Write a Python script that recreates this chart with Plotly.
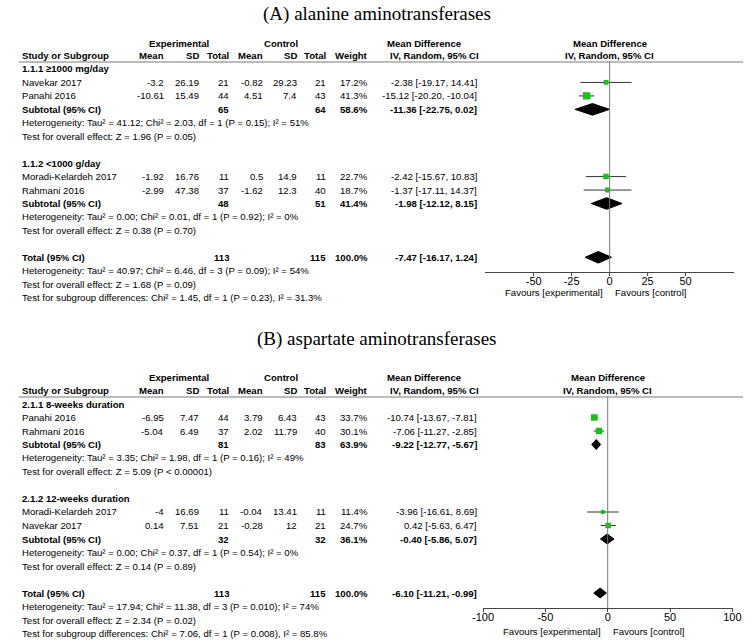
import plotly.graph_objects as go
import math

W, H = 752, 644
SANS = "Arial, Liberation Sans, sans-serif"
SERIF = "Times New Roman, Liberation Serif, serif"
GREEN = "#17c217"
FS = 9.6

# ---------------- Panel A data ----------------
a_title = "(A) alanine aminotransferases"
a_groups = ["1.1.1 \u22651000 mg/day", "1.1.2 &lt;1000 g/day"]
a_group_of = [0, 0, 1, 1]
a_study = ["Navekar 2017", "Panahi 2016", "Moradi-Kelardeh 2017", "Rahmani 2016"]
a_exp_mean = [-3.2, -10.61, -1.92, -2.99]
a_exp_sd = [26.19, 15.49, 16.76, 47.38]
a_exp_n = [21, 44, 11, 37]
a_ctl_mean = [-0.82, 4.51, 0.5, -1.62]
a_ctl_sd = [29.23, 7.4, 14.9, 12.3]
a_ctl_n = [21, 43, 11, 40]
a_weight = [17.2, 41.3, 22.7, 18.7]
a_md = [-2.38, -15.12, -2.42, -1.37]
a_lo = [-19.17, -20.20, -15.67, -17.11]
a_hi = [14.41, -10.04, 10.83, 14.37]
a_sub_n_exp = [65, 48]
a_sub_n_ctl = [64, 51]
a_sub_weight = [58.6, 41.4]
a_sub_md = [-11.36, -1.98]
a_sub_lo = [-22.75, -12.12]
a_sub_hi = [0.02, 8.15]
a_sub_het = ["Heterogeneity: Tau\u00b2 = 41.12; Chi\u00b2 = 2.03, df = 1 (P = 0.15); I\u00b2 = 51%",
             "Heterogeneity: Tau\u00b2 = 0.00; Chi\u00b2 = 0.01, df = 1 (P = 0.92); I\u00b2 = 0%"]
a_sub_test = ["Test for overall effect: Z = 1.96 (P = 0.05)",
              "Test for overall effect: Z = 0.38 (P = 0.70)"]
a_tot_n_exp, a_tot_n_ctl, a_tot_weight = 113, 115, 100.0
a_tot_md, a_tot_lo, a_tot_hi = -7.47, -16.17, 1.24
a_tot_het = "Heterogeneity: Tau\u00b2 = 40.97; Chi\u00b2 = 6.46, df = 3 (P = 0.09); I\u00b2 = 54%"
a_tot_test = "Test for overall effect: Z = 1.68 (P = 0.09)"
a_subgroup_test = "Test for subgroup differences: Chi\u00b2 = 1.45, df = 1 (P = 0.23), I\u00b2 = 31.3%"
a_ticks = [-50, -25, 0, 25, 50]
a_range = [-82, 82]

# ---------------- Panel B data ----------------
b_title = "(B) aspartate aminotransferases"
b_groups = ["2.1.1 8-weeks duration", "2.1.2 12-weeks duration"]
b_group_of = [0, 0, 1, 1]
b_study = ["Panahi 2016", "Rahmani 2016", "Moradi-Kelardeh 2017", "Navekar 2017"]
b_exp_mean = [-6.95, -5.04, -4, 0.14]
b_exp_sd = [7.47, 6.49, 16.69, 7.51]
b_exp_n = [44, 37, 11, 21]
b_ctl_mean = [3.79, 2.02, -0.04, -0.28]
b_ctl_sd = [6.43, 11.79, 13.41, 12]
b_ctl_n = [43, 40, 11, 21]
b_weight = [33.7, 30.1, 11.4, 24.7]
b_md = [-10.74, -7.06, -3.96, 0.42]
b_lo = [-13.67, -11.27, -16.61, -5.63]
b_hi = [-7.81, -2.85, 8.69, 6.47]
b_sub_n_exp = [81, 32]
b_sub_n_ctl = [83, 32]
b_sub_weight = [63.9, 36.1]
b_sub_md = [-9.22, -0.40]
b_sub_lo = [-12.77, -5.86]
b_sub_hi = [-5.67, 5.07]
b_sub_het = ["Heterogeneity: Tau\u00b2 = 3.35; Chi\u00b2 = 1.98, df = 1 (P = 0.16); I\u00b2 = 49%",
             "Heterogeneity: Tau\u00b2 = 0.00; Chi\u00b2 = 0.37, df = 1 (P = 0.54); I\u00b2 = 0%"]
b_sub_test = ["Test for overall effect: Z = 5.09 (P &lt; 0.00001)",
              "Test for overall effect: Z = 0.14 (P = 0.89)"]
b_tot_n_exp, b_tot_n_ctl, b_tot_weight = 113, 115, 100.0
b_tot_md, b_tot_lo, b_tot_hi = -6.10, -11.21, -0.99
b_tot_het = "Heterogeneity: Tau\u00b2 = 17.94; Chi\u00b2 = 11.38, df = 3 (P = 0.010); I\u00b2 = 74%"
b_tot_test = "Test for overall effect: Z = 2.34 (P = 0.02)"
b_subgroup_test = "Test for subgroup differences: Chi\u00b2 = 7.06, df = 1 (P = 0.008), I\u00b2 = 85.8%"
b_ticks = [-100, -50, 0, 50, 100]
b_range = [-100.3, 100.3]

# column x positions (window px, right edges)
X_NAME = 10
X_MEAN_E, X_SD_E, X_N_E = 158, 194, 225
X_MEAN_C, X_SD_C, X_N_C = 260, 295, 325
X_WEIGHT = 368
X_CI = 480
X_EXP_HDR, X_CTL_HDR = 173, 277
X_MD_HDR1, X_MD_HDR2 = 424, 435

ann = []
shapes = []
traces = []


def px(x):
    return x / W


def py(y):
    return 1 - y / H


def txt(x, y, s, anchor="left", bold=False, size=FS, family=SANS):
    ann.append(dict(xref="paper", yref="paper", x=px(x), y=py(y),
                    text=f"<b>{s}</b>" if bold else s, xanchor=anchor, yanchor="middle",
                    showarrow=False, borderpad=0,
                    font=dict(size=size, family=family, color="black")))


def fnum(v):
    return f"{v:g}"


def fci(m, lo, hi):
    return f"{m:.2f} [{lo:.2f}, {hi:.2f}]"


def pooled_row(ne, nc, w, md, lo, hi, y, label, L, xa, ya):
    txt(X_NAME, y, label, "left", True)
    txt(X_N_E, y, fnum(ne), "right", True)
    txt(X_N_C, y, fnum(nc), "right", True)
    txt(X_WEIGHT, y, f"{w:.1f}%", "right", True)
    txt(X_CI, y, fci(md, lo, hi), "right", True)
    h = L["dh"]
    traces.append(go.Scatter(x=[lo, md, hi, md, lo], y=[y, y - h, y, y + h, y], mode="lines",
                             fill="toself", fillcolor="black", line=dict(color="black", width=1),
                             xaxis=xa, yaxis=ya, hoverinfo="skip", showlegend=False))


def panel(P, L, xa, ya):
    row_y = lambda r: L["row0"] + r * L["pitch"]
    d0, d1 = L["dom"]
    r0, r1 = P["range"]
    zero_px = d0 + (0 - r0) / (r1 - r0) * (d1 - d0)

    txt(W / 2, L["title"], P["title"], "center", size=19, family=SERIF)
    txt(X_EXP_HDR, L["hdr1"], "Experimental", "center", True)
    txt(X_CTL_HDR, L["hdr1"], "Control", "center", True)
    txt(X_MD_HDR1, L["hdr1"], "Mean Difference", "center", True)
    txt(zero_px, L["hdr1"], "Mean Difference", "center", True)
    hdr = [("Study or Subgroup", X_NAME, "left"), ("Mean", X_MEAN_E, "right"), ("SD", X_SD_E, "right"),
           ("Total", X_N_E, "right"), ("Mean", X_MEAN_C, "right"), ("SD", X_SD_C, "right"),
           ("Total", X_N_C, "right"), ("Weight", X_WEIGHT, "right")]
    for s, x, a in hdr:
        txt(x, L["hdr2"], s, a, True)
    txt(X_MD_HDR2, L["hdr2"], "IV, Random, 95% CI", "center", True)
    txt(zero_px, L["hdr2"], "IV, Random, 95% CI", "center", True)
    shapes.append(dict(type="line", xref="paper", yref="paper", x0=px(8), x1=1,
                       y0=py(L["line"]), y1=py(L["line"]),
                       line=dict(color="#7a7a7a", width=1)))

    r = 0
    for g in range(2):
        txt(X_NAME, row_y(r), P["groups"][g], "left", True)
        r += 1
        for i in range(len(P["study"])):
            if P["group_of"][i] != g:
                continue
            y = row_y(r)
            txt(X_NAME, y, P["study"][i])
            txt(X_MEAN_E, y, fnum(P["exp_mean"][i]), "right")
            txt(X_SD_E, y, fnum(P["exp_sd"][i]), "right")
            txt(X_N_E, y, fnum(P["exp_n"][i]), "right")
            txt(X_MEAN_C, y, fnum(P["ctl_mean"][i]), "right")
            txt(X_SD_C, y, fnum(P["ctl_sd"][i]), "right")
            txt(X_N_C, y, fnum(P["ctl_n"][i]), "right")
            txt(X_WEIGHT, y, f"{P['weight'][i]:.1f}%", "right")
            txt(X_CI, y, fci(P["md"][i], P["lo"][i], P["hi"][i]), "right")
            traces.append(go.Scatter(x=[P["lo"][i], P["hi"][i]], y=[y, y], mode="lines",
                                     line=dict(color="#333333", width=1), xaxis=xa, yaxis=ya,
                                     hoverinfo="skip", showlegend=False))
            traces.append(go.Scatter(x=[P["md"][i]], y=[y], mode="markers",
                                     marker=dict(symbol="square", color=GREEN,
                                                 size=1.15 * math.sqrt(P["weight"][i]),
                                                 line=dict(width=0)),
                                     xaxis=xa, yaxis=ya, showlegend=False))
            r += 1
        y = row_y(r)
        pooled_row(P["sub_n_exp"][g], P["sub_n_ctl"][g], P["sub_weight"][g],
                   P["sub_md"][g], P["sub_lo"][g], P["sub_hi"][g], y, "Subtotal (95% CI)", L, xa, ya)
        txt(X_NAME, row_y(r + 1), P["sub_het"][g])
        txt(X_NAME, row_y(r + 2), P["sub_test"][g])
        r += 4
    y = row_y(r)
    pooled_row(P["tot_n_exp"], P["tot_n_ctl"], P["tot_weight"], P["tot_md"], P["tot_lo"], P["tot_hi"],
               y, "Total (95% CI)", L, xa, ya)
    txt(X_NAME, row_y(r + 1), P["tot_het"])
    txt(X_NAME, row_y(r + 2), P["tot_test"])
    txt(X_NAME, row_y(r + 3), P["subgroup_test"])

    shapes.append(dict(type="line", xref=xa, yref=f"{ya} domain", x0=0, x1=0, y0=0, y1=1,
                       line=dict(color="#7a7a7a", width=1)))
    txt(zero_px - 6, L["fav"], "Favours [experimental]", "right")
    txt(zero_px + 4, L["fav"], "Favours [control]", "left")


PA = dict(title=a_title, groups=a_groups, group_of=a_group_of, study=a_study,
          exp_mean=a_exp_mean, exp_sd=a_exp_sd, exp_n=a_exp_n, ctl_mean=a_ctl_mean,
          ctl_sd=a_ctl_sd, ctl_n=a_ctl_n, weight=a_weight, md=a_md, lo=a_lo, hi=a_hi,
          sub_n_exp=a_sub_n_exp, sub_n_ctl=a_sub_n_ctl, sub_weight=a_sub_weight,
          sub_md=a_sub_md, sub_lo=a_sub_lo, sub_hi=a_sub_hi, sub_het=a_sub_het, sub_test=a_sub_test,
          tot_n_exp=a_tot_n_exp, tot_n_ctl=a_tot_n_ctl, tot_weight=a_tot_weight,
          tot_md=a_tot_md, tot_lo=a_tot_lo, tot_hi=a_tot_hi, tot_het=a_tot_het,
          tot_test=a_tot_test, subgroup_test=a_subgroup_test, range=a_range)
PB = dict(title=b_title, groups=b_groups, group_of=b_group_of, study=b_study,
          exp_mean=b_exp_mean, exp_sd=b_exp_sd, exp_n=b_exp_n, ctl_mean=b_ctl_mean,
          ctl_sd=b_ctl_sd, ctl_n=b_ctl_n, weight=b_weight, md=b_md, lo=b_lo, hi=b_hi,
          sub_n_exp=b_sub_n_exp, sub_n_ctl=b_sub_n_ctl, sub_weight=b_sub_weight,
          sub_md=b_sub_md, sub_lo=b_sub_lo, sub_hi=b_sub_hi, sub_het=b_sub_het, sub_test=b_sub_test,
          tot_n_exp=b_tot_n_exp, tot_n_ctl=b_tot_n_ctl, tot_weight=b_tot_weight,
          tot_md=b_tot_md, tot_lo=b_tot_lo, tot_hi=b_tot_hi, tot_het=b_tot_het,
          tot_test=b_tot_test, subgroup_test=b_subgroup_test, range=b_range)

LA = dict(title=14, hdr1=43, hdr2=56, line=62, row0=69, pitch=13.45, axis=272, fav=292,
          dom=(487, 743), dh=5.8)
LB = dict(title=339, hdr1=377, hdr2=390, line=397, row0=404, pitch=13.5, axis=608, fav=631,
          dom=(484.6, 741.4), dh=5.0)

panel(PA, LA, "x", "y")
panel(PB, LB, "x2", "y2")

fig = go.Figure(traces)


def xaxis_cfg(L, P, ticks, anchor):
    return dict(domain=[px(L["dom"][0]), px(L["dom"][1])], range=P["range"], anchor=anchor,
                tickvals=ticks, ticktext=[str(t) for t in ticks], ticks="outside", ticklen=3,
                ticklabelstandoff=-4,
                tickcolor="#444", showline=True, linecolor="#444", linewidth=1,
                showgrid=False, zeroline=False, fixedrange=True,
                tickfont=dict(size=11, family=SANS, color="black"))


def yaxis_cfg(L):
    return dict(domain=[py(L["axis"]), py(L["line"])], range=[L["axis"], L["line"]],
                visible=False, fixedrange=True)


fig.update_layout(
    width=W, height=H, margin=dict(l=0, r=0, t=0, b=0),
    paper_bgcolor="white", plot_bgcolor="rgba(0,0,0,0)",
    xaxis=xaxis_cfg(LA, PA, a_ticks, "y"), yaxis=yaxis_cfg(LA),
    xaxis2=xaxis_cfg(LB, PB, b_ticks, "y2"), yaxis2=yaxis_cfg(LB),
    annotations=ann, shapes=shapes, showlegend=False,
)

fig.write_html("out.html", config={"displayModeBar": False},
               post_script="document.body.style.margin='0';document.body.style.overflow='hidden';")
